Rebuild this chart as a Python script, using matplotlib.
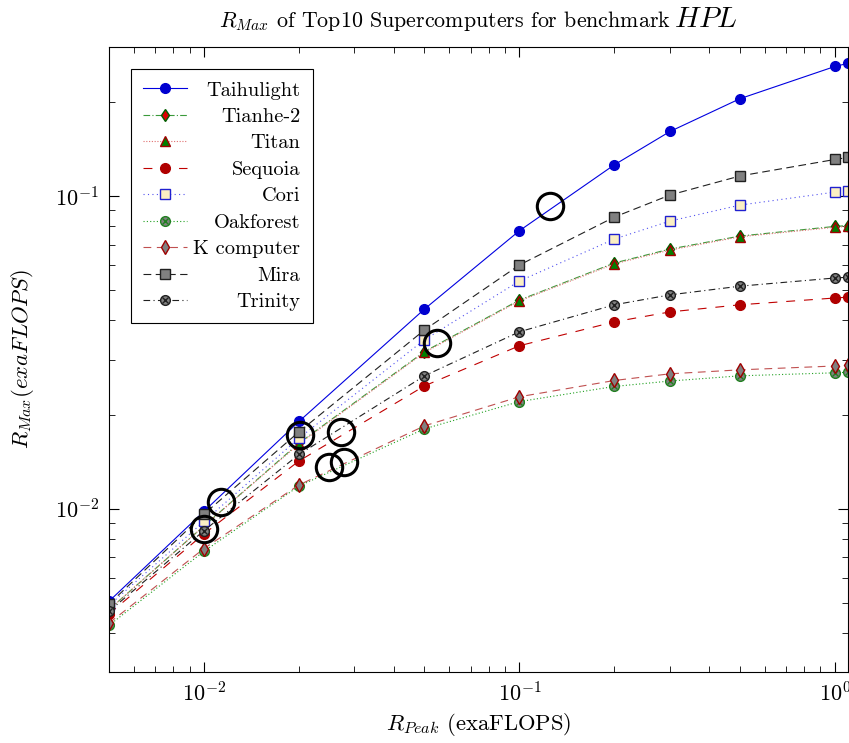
import numpy as np
import matplotlib
matplotlib.use("Agg")
import matplotlib.pyplot as plt
from matplotlib.legend_handler import HandlerTuple
from matplotlib.offsetbox import TextArea, HPacker, AnchoredOffsetbox

plt.rcParams['font.family'] = 'serif'
plt.rcParams['font.serif'] = ['cmr10']
plt.rcParams['mathtext.fontset'] = 'cm'
plt.rcParams['axes.formatter.use_mathtext'] = True
plt.rcParams['axes.unicode_minus'] = True

# R_peak sweep (exaFLOPS)
r_peak = [0.005, 0.01, 0.02, 0.05, 0.1, 0.2, 0.3, 0.5, 1.0, 1.1]

taihulight = [0.00505, 0.0098, 0.019, 0.0435, 0.0775, 0.126, 0.161, 0.205, 0.26, 0.266]
tianhe2 = [0.00475, 0.0088, 0.0162, 0.0318, 0.0465, 0.0611, 0.0677, 0.0745, 0.080, 0.0805]
titan = [0.00475, 0.0088, 0.0161, 0.0316, 0.0462, 0.0607, 0.0672, 0.0741, 0.0795, 0.0800]
sequoia = [0.0046, 0.0083, 0.0142, 0.0247, 0.0332, 0.0396, 0.0426, 0.0449, 0.0472, 0.0475]
cori = [0.0049, 0.0091, 0.0168, 0.0347, 0.0535, 0.0729, 0.0832, 0.0936, 0.103, 0.104]
oakforest = [0.00423, 0.0073, 0.0118, 0.0180, 0.0220, 0.0246, 0.0256, 0.0266, 0.0272, 0.0273]
kcomputer = [0.0043, 0.00745, 0.0119, 0.0184, 0.0228, 0.0257, 0.0270, 0.0278, 0.0286, 0.0288]
mira = [0.00495, 0.0096, 0.0176, 0.0373, 0.0602, 0.0857, 0.1008, 0.116, 0.131, 0.133]
trinity = [0.00469, 0.0085, 0.0149, 0.0266, 0.0368, 0.0449, 0.0483, 0.0515, 0.0547, 0.055]

# actual systems (Rpeak, Rmax)
real_peak = [0.1254, 0.0549, 0.0271, 0.0201, 0.0278, 0.0249, 0.0113, 0.0100]
real_max = [0.0930, 0.0339, 0.0176, 0.0172, 0.0141, 0.0136, 0.0105, 0.0086]

fig = plt.figure(figsize=(8.49, 7.43), dpi=100)
ax = fig.add_axes([0.1284, 0.0956, 0.8704, 0.8411])

lw = 0.8
ms = 7
gray = '#808080'

series = [
    ('Taihulight', taihulight, dict(color='#0000e0', ls='-', marker='o', mfc='#0000d0', mec='#0000d0')),
    ('Tianhe-2', tianhe2, dict(color='#3a9a3a', ls=(0, (6, 2, 1, 2)), marker='d', mfc='#dd0000', mec='#006000', ms=6)),
    ('Titan', titan, dict(color='#e07070', ls=(0, (1, 1.5)), marker='^', mfc='#008000', mec='#a00000')),
    ('Sequoia', sequoia, dict(color='#c00000', ls=(0, (8, 8)), marker='o', mfc='#b00000', mec='#b00000')),
    ('Cori', cori, dict(color='#5050f0', ls=(0, (1, 3)), marker='s', mfc='#fbefc3', mec='#2020d0')),
    ('Oakforest', oakforest, dict(color='#20a020', ls=(0, (1, 2)), marker='o', mfc=gray, mec='#208020')),
    ('K computer', kcomputer, dict(color='#c05050', ls=(0, (7, 5)), marker='d', mfc=gray, mec='#a00000', ms=7.5)),
    ('Mira', mira, dict(color='#202020', ls=(0, (7, 4)), marker='s', mfc=gray, mec='#202020')),
    ('Trinity', trinity, dict(color='#202020', ls=(0, (6, 3, 1, 3)), marker='o', mfc=gray, mec='#202020')),
]

handles = []
labels = []
for name, vals, st in series:
    st = dict(st)
    size = st.pop('ms', ms)
    ln, = ax.plot(r_peak, vals, lw=lw, ms=size, mew=1.0, **st)
    if name in ('Oakforest', 'Trinity'):
        xm, = ax.plot(r_peak, vals, ls='none', marker='x', ms=size * 0.6,
                      mew=1.0, color=st['mec'])
        handles.append((ln, xm))
    else:
        handles.append(ln)
    labels.append(name)

ax.plot(real_peak, real_max, ls='none', marker='o', ms=19, mfc='none',
        mec='black', mew=2.2, zorder=5)

ax.set_xscale('log')
ax.set_yscale('log')
ax.set_xlim(0.005, 1.1)
ax.set_ylim(0.003, 0.3)

ax.tick_params(which='both', direction='in', top=True, right=True, labelsize=16)
ax.tick_params(which='major', length=7, pad=7)
ax.tick_params(which='minor', length=4)
ax.yaxis.set_minor_formatter(matplotlib.ticker.NullFormatter())
ax.xaxis.set_minor_formatter(matplotlib.ticker.NullFormatter())

ax.set_xlabel(r'$R_{Peak}$ (exaFLOPS)', fontsize=16.3, labelpad=4)
ax.set_ylabel(r'$R_{Max} (exaFLOPS)$', fontsize=16.3, labelpad=14)

# title with a bigger HPL part
t1 = TextArea(r'$R_{Max}$ of Top10 Supercomputers for benchmark ', textprops=dict(fontsize=15.8))
t2 = TextArea(r'$HPL$', textprops=dict(fontsize=21))
box = HPacker(children=[t1, t2], align='baseline', pad=0, sep=2)
anchored = AnchoredOffsetbox(loc='lower center', child=box, frameon=False,
                             bbox_to_anchor=(0.5, 1.022), bbox_transform=ax.transAxes,
                             borderpad=0, pad=0)
ax.add_artist(anchored)

leg = ax.legend(handles, labels, loc='upper left',
                bbox_to_anchor=(22 / 739, 1 - 22 / 625), borderaxespad=0,
                fontsize=14.7, fancybox=False, edgecolor='black', framealpha=1,
                handlelength=2.15, handletextpad=0.3, labelspacing=0.4, borderpad=0.6,
                handler_map={tuple: HandlerTuple(ndivide=1)})
leg.get_frame().set_linewidth(0.8)

# right-align the legend labels
fig.canvas.draw()
renderer = fig.canvas.get_renderer()
widths = [t.get_window_extent(renderer).width for t in leg.get_texts()]
shift = max(widths)
for t, w in zip(leg.get_texts(), widths):
    t.set_position((shift - w, 0))

fig.savefig('out.png', dpi=100)
